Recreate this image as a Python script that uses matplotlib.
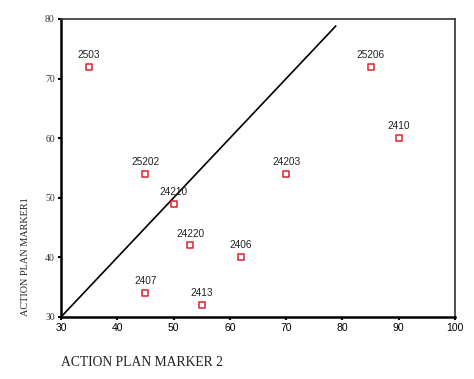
import matplotlib
matplotlib.use("Agg")
import matplotlib.pyplot as plt

labels = ["2503", "25202", "24210", "24220", "2407", "2413", "2406", "24203", "25206", "2410"]
marker2 = [35, 45, 50, 53, 45, 55, 62, 70, 85, 90]
marker1 = [72, 54, 49, 42, 34, 32, 40, 54, 72, 60]
diag = [30, 78.8]
x_ticks = [30, 40, 50, 60, 70, 80, 90, 100]
y_ticks = [30, 40, 50, 60, 70, 80]

fig = plt.figure(figsize=(4.74, 3.79), dpi=100)
ax = fig.add_axes([0.1287, 0.1636, 0.8312, 0.7863])

ax.plot(diag, diag, color="black", lw=1.2, zorder=2)
ax.scatter(marker2, marker1, marker="s", s=13, facecolors="white",
           edgecolors="#e0202a", linewidths=1.1, zorder=3)
for x, y, t in zip(marker2, marker1, labels):
    ax.annotate(t, (x, y), xytext=(0, 5), textcoords="offset points",
                ha="center", va="bottom", fontsize=7.3, family="Liberation Sans",
                color="#222222")

ax.set_xlim(30, 100)
ax.set_ylim(30, 80)
ax.set_xticks(x_ticks)
ax.set_yticks(y_ticks)
for lab in ax.get_xticklabels():
    lab.set_family("Liberation Sans")
    lab.set_fontsize(7.5)
for lab in ax.get_yticklabels():
    lab.set_family("Liberation Serif")
    lab.set_fontsize(7)
    lab.set_color("#333333")
ax.tick_params(axis="both", length=2.5, width=1.5, direction="out", pad=2)
for side in ["left", "bottom"]:
    ax.spines[side].set_linewidth(1.8)
for side in ["top", "right"]:
    ax.spines[side].set_linewidth(1.2)
    ax.spines[side].set_color("#333333")

fig.text(142 / 474, 1 - 362 / 379, "ACTION PLAN MARKER 2", ha="center", va="center",
         family="Liberation Serif", fontsize=9.8, color="#222222")
fig.text(26 / 474, 1 - 257 / 379, "ACTION PLAN MARKER1", ha="center", va="center",
         rotation=90, family="Liberation Serif", fontsize=7.4, color="#222222")

fig.savefig("out.png", dpi=100)
